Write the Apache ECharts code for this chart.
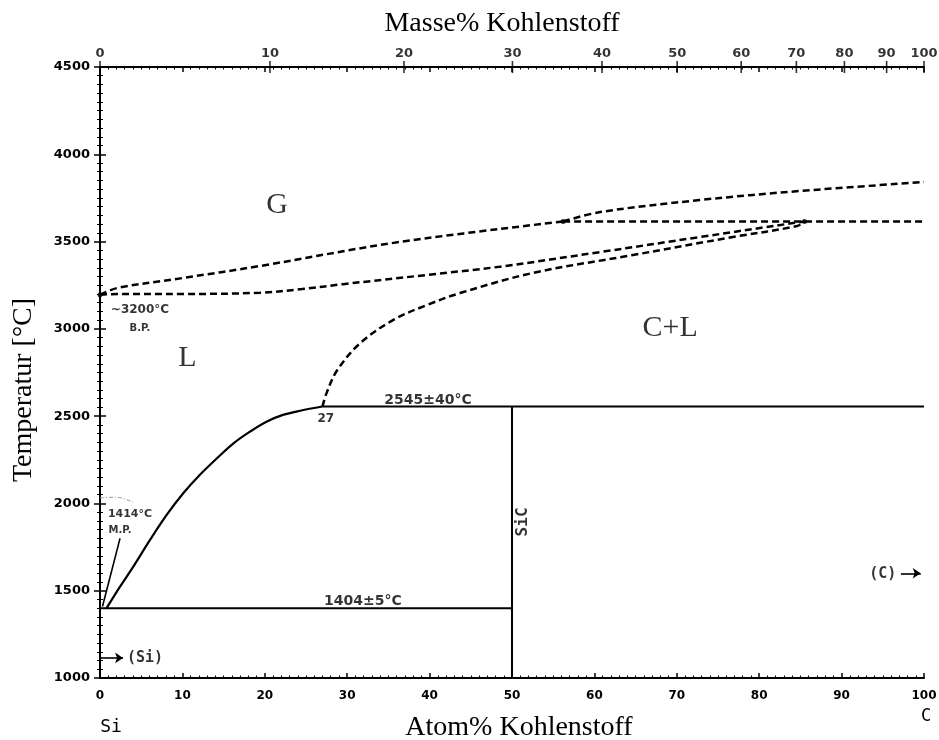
<!DOCTYPE html>
<html>
<head>
<meta charset="utf-8">
<script src="https://cdn.jsdelivr.net/npm/echarts@6/dist/echarts.min.js"></script>
<style>html,body{margin:0;padding:0;background:#fff}#c{width:939px;height:740px}</style>
</head>
<body>
<div id="c"></div>
<script>
// ---------- data (Atom% C, Temperatur °C) ----------
const massTickValues = [0, 10, 20, 30, 40, 50, 60, 70, 80, 90, 100];
const gasUpperLeft   = [[0,3195],[2.1,3234],[10,3291],[19.4,3360],[36.4,3498],[56.2,3615]];
const gasUpperRight  = [[56.2,3615],[60.7,3669],[72.8,3738],[85,3790],[100,3841]];
const isotherm3615   = [[56.2,3615],[100,3615]];
const gasLower       = [[0,3195],[2.1,3200],[10,3200],[19.4,3207],[24.5,3228],[29.5,3256],[39.7,3309],[48.5,3356],[60.7,3440],[72.8,3526],[84.1,3606],[85.5,3615]];
const liquidusDashed = [[27,2555],[27.5,2633],[28.8,2764],[31.6,2919],[35.6,3051],[39.7,3137],[43.7,3205],[52.5,3320],[64.7,3423],[76.8,3526],[84.6,3589],[85.5,3615]];
const liquidusSolid  = [[0.8,1400],[2.43,1523],[4.04,1638],[6.07,1791],[8.09,1934],[10.1,2058],[12.1,2163],[14.2,2259],[16.2,2344],[18.2,2411],[20.2,2468],[22.2,2507],[24.3,2531],[27,2555]];
const eutectic       = [[0,1400],[50,1400]];
const peritectic     = [[27,2555],[100,2555]];
const sicLine        = [[50,1000],[50,2555]];
const mpLeader       = [[0.3,1410],[2.43,1800]];
const faintArc       = [[0,2031],[2,2036],[4,2008]];
const specialPoints  = [[0,3195],[56.2,3615],[85.5,3615]];
const arrowSi        = [[0,1115],[2.8,1115]];
const arrowC         = [[97.2,1600],[99.6,1600]];
const labelTexts = ['G','L','C+L','~3200°C','B.P.','1414°C','M.P.','27','2545±40°C','1404±5°C','SiC','(Si)','(C)'];
const labelPos   = [[21.5,3710],[10.6,2833],[69.2,3005],[4.85,3108],[4.85,3005],[3.64,1939],[2.43,1848],[27.4,2484],[39.8,2593],[31.9,1441],[51.3,1894],[5.46,1115],[95.0,1595]];

// ---------- helpers ----------
const massToAtom = m => { const c = m / 12.011, s = (100 - m) / 28.086; return 100 * c / (c + s); };
const serif = 'Liberation Serif', sans = 'DejaVu Sans', mono = 'DejaVu Sans Mono';
const labelStyles = [
  {fontFamily: serif, fontSize: 30},
  {fontFamily: serif, fontSize: 30},
  {fontFamily: serif, fontSize: 30},
  {fontFamily: sans, fontSize: 12, fontWeight: 'bold'},
  {fontFamily: sans, fontSize: 10, fontWeight: 'bold'},
  {fontFamily: sans, fontSize: 11, fontWeight: 'bold'},
  {fontFamily: sans, fontSize: 10, fontWeight: 'bold'},
  {fontFamily: sans, fontSize: 12, fontWeight: 'bold'},
  {fontFamily: sans, fontSize: 14, fontWeight: 'bold'},
  {fontFamily: sans, fontSize: 14, fontWeight: 'bold'},
  {fontFamily: mono, fontSize: 16, fontWeight: 'bold', rotate: 90},
  {fontFamily: mono, fontSize: 15, fontWeight: 'bold'},
  {fontFamily: mono, fontSize: 15, fontWeight: 'bold'}
];

const black = '#000';
function lineSeries(data, opts) {
  opts = opts || {};
  return {
    type: 'line', data: data, showSymbol: false, symbol: 'none', silent: true,
    smooth: opts.smooth || false,
    clip: false, z: 3,
    lineStyle: {color: opts.color || black, width: opts.width || 2, type: opts.dash ? [7, 4] : 'solid', cap: 'butt'},
    markLine: opts.markLine
  };
}
function arrowMark(pts) {
  return {
    silent: true, symbol: ['none', 'arrow'], symbolSize: 8, animation: false,
    label: {show: false},
    lineStyle: {color: black, width: 1.6, type: 'solid'},
    data: [[{coord: pts[0]}, {coord: pts[1]}]]
  };
}

const axisLineStyle = {color: black, width: 2};
const tickFont = {color: black, fontFamily: sans, fontWeight: 'bold'};
const plain = v => String(v);

const option = {
  animation: false,
  backgroundColor: '#fff',
  grid: {left: 100, right: 15, top: 67, bottom: 62, containLabel: false, outerBoundsMode: 'none'},
  xAxis: [
    {
      type: 'value', min: 0, max: 100, interval: 10, position: 'bottom',
      axisLine: {show: true, lineStyle: axisLineStyle},
      axisTick: {show: true, inside: true, length: 5, lineStyle: {color: black, width: 1.5}},
      minorTick: {show: true, splitNumber: 10, length: 2.5, lineStyle: {color: black, width: 1}},
      axisLabel: Object.assign({fontSize: 12, margin: 12, formatter: plain}, tickFont),
      splitLine: {show: false}, minorSplitLine: {show: false}
    },
    {
      type: 'value', min: 0, max: 100, interval: 10, position: 'top',
      axisLine: {show: true, lineStyle: axisLineStyle},
      axisTick: {show: true, inside: true, length: 5, lineStyle: {color: black, width: 1.5}},
      minorTick: {show: true, splitNumber: 10, length: 2.5, lineStyle: {color: black, width: 1}},
      axisLabel: {show: false},
      splitLine: {show: false}, minorSplitLine: {show: false}
    }
  ],
  yAxis: [
    {
      type: 'value', min: 1000, max: 4500, interval: 500, position: 'left',
      axisLine: {show: true, lineStyle: axisLineStyle},
      axisTick: {show: true, inside: false, length: 6, lineStyle: {color: black, width: 1.5}},
      minorTick: {show: true, splitNumber: 10, length: 3, lineStyle: {color: black, width: 1}},
      axisLabel: Object.assign({fontSize: 13, margin: 10, formatter: plain}, tickFont),
      splitLine: {show: false}, minorSplitLine: {show: false}
    },
    {
      type: 'value', min: 1000, max: 4500, interval: 500, position: 'right',
      axisLine: {show: true, lineStyle: axisLineStyle},
      axisTick: {show: true, inside: false, length: 6, lineStyle: {color: black, width: 1.5}},
      minorTick: {show: true, splitNumber: 10, length: 3, lineStyle: {color: black, width: 1}},
      axisLabel: {show: false},
      splitLine: {show: false}, minorSplitLine: {show: false}
    }
  ],
  graphic: [
    {type: 'text', x: 502, y: 24, silent: true,
     style: {text: 'Masse% Kohlenstoff', fontFamily: serif, fontSize: 28, fill: black, align: 'center', verticalAlign: 'middle'}},
    {type: 'text', x: 519, y: 728, silent: true,
     style: {text: 'Atom% Kohlenstoff', fontFamily: serif, fontSize: 28, fill: black, align: 'center', verticalAlign: 'middle'}},
    {type: 'text', x: 24, y: 390, rotation: Math.PI / 2, silent: true,
     style: {text: 'Temperatur [°C]', fontFamily: serif, fontSize: 28, fill: black, align: 'center', verticalAlign: 'middle'}},
    {type: 'text', x: 111, y: 727, silent: true,
     style: {text: 'Si', fontFamily: mono, fontSize: 18, fill: black, align: 'center', verticalAlign: 'middle'}},
    {type: 'text', x: 926, y: 717, silent: true,
     style: {text: 'C', fontFamily: mono, fontSize: 17, fill: black, align: 'center', verticalAlign: 'middle'}}
  ],
  series: [
    // Masse% ticks and labels on the top axis (positioned on the Atom% scale)
    {
      type: 'scatter', xAxisIndex: 1, yAxisIndex: 0, silent: true, clip: false, z: 5,
      symbol: 'rect', symbolSize: [1.6, 12], itemStyle: {color: black},
      data: massTickValues.map(m => [massToAtom(m), 4500]),
      label: Object.assign({show: true, position: 'top', distance: 1, fontSize: 13,
        formatter: p => String(massTickValues[p.dataIndex])}, tickFont)
    },
    lineSeries(gasUpperLeft, {dash: true, width: 2.5, smooth: 0.35}),
    lineSeries(gasUpperRight, {dash: true, width: 2.5, smooth: 0.35}),
    lineSeries(isotherm3615, {dash: true, width: 2.5}),
    lineSeries(gasLower, {dash: true, width: 2.5, smooth: 0.35}),
    lineSeries(liquidusDashed, {dash: true, width: 2.5, smooth: 0.35}),
    lineSeries(liquidusSolid, {width: 2.2, smooth: 0.35}),
    lineSeries(eutectic, {width: 2, markLine: arrowMark(arrowSi)}),
    lineSeries(peritectic, {width: 2, markLine: arrowMark(arrowC)}),
    lineSeries(sicLine, {width: 2}),
    lineSeries(mpLeader, {width: 1.6}),
    Object.assign(lineSeries(faintArc, {width: 1, color: '#999', smooth: 0.3}), {lineStyle: {color: '#999', width: 1, type: [4, 2, 1, 2]}}),
    {
      type: 'scatter', silent: true, clip: false, z: 4, symbol: 'circle', symbolSize: 5,
      itemStyle: {color: black}, data: specialPoints
    },
    {
      type: 'scatter', silent: true, clip: false, z: 6, symbolSize: 0,
      data: labelTexts.map((t, i) => ({
        value: labelPos[i],
        label: Object.assign({show: true, position: 'inside', color: black, formatter: t,
          align: 'center', verticalAlign: 'middle'}, labelStyles[i])
      }))
    }
  ]
};

const chart = echarts.init(document.getElementById('c'), null, {renderer: 'canvas'});
chart.setOption(option);
</script>
</body>
</html>
